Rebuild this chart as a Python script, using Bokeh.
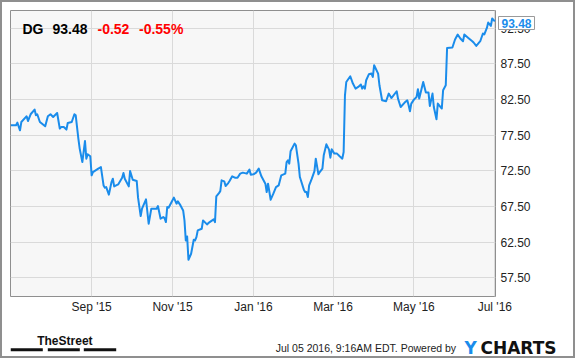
import pandas as pd
from bokeh.plotting import figure
from bokeh.layouts import column
from bokeh.models import (Label, FixedTicker, DatetimeTickFormatter,
                          Range1d, NumeralTickFormatter, ColumnDataSource)
from bokeh.core.properties import value
from bokeh.embed import file_html
from bokeh.resources import INLINE

# ---------------- data ----------------
ticker_symbol = "DG"
last_price = "93.48"
change_abs = "-0.52"
change_pct = "-0.55%"
footer_stamp = "Jul 05 2016, 9:16AM EDT.  Powered by"

dates = [
    "2015-07-02", "2015-07-06", "2015-07-07", "2015-07-09", "2015-07-10", "2015-07-13", "2015-07-14", "2015-07-15", "2015-07-17", "2015-07-20",
    "2015-07-21", "2015-07-22", "2015-07-24", "2015-07-28", "2015-07-30", "2015-08-01", "2015-08-03", "2015-08-06", "2015-08-08", "2015-08-09",
    "2015-08-11", "2015-08-13", "2015-08-14", "2015-08-17", "2015-08-19", "2015-08-20", "2015-08-22", "2015-08-23", "2015-08-25", "2015-08-27",
    "2015-08-28", "2015-08-29", "2015-08-31", "2015-09-01", "2015-09-02", "2015-09-06", "2015-09-08", "2015-09-10", "2015-09-11", "2015-09-12",
    "2015-09-14", "2015-09-16", "2015-09-17", "2015-09-18", "2015-09-21", "2015-09-24", "2015-09-25", "2015-09-26", "2015-09-29", "2015-09-30",
    "2015-10-02", "2015-10-05", "2015-10-06", "2015-10-08", "2015-10-09", "2015-10-12", "2015-10-14", "2015-10-16", "2015-10-20", "2015-10-21",
    "2015-10-23", "2015-10-25", "2015-10-26", "2015-10-27", "2015-10-28", "2015-10-29", "2015-10-31", "2015-11-02", "2015-11-04", "2015-11-05",
    "2015-11-07", "2015-11-09", "2015-11-10", "2015-11-11", "2015-11-12", "2015-11-13", "2015-11-15", "2015-11-17", "2015-11-18", "2015-11-19",
    "2015-11-20", "2015-11-23", "2015-11-24", "2015-11-27", "2015-11-29", "2015-12-02", "2015-12-03", "2015-12-04", "2015-12-06", "2015-12-07",
    "2015-12-08", "2015-12-10", "2015-12-11", "2015-12-13", "2015-12-14", "2015-12-16", "2015-12-18", "2015-12-20", "2015-12-22", "2015-12-24",
    "2015-12-27", "2015-12-29", "2015-12-30", "2016-01-01", "2016-01-03", "2016-01-05", "2016-01-07", "2016-01-10", "2016-01-11", "2016-01-12",
    "2016-01-14", "2016-01-16", "2016-01-18", "2016-01-20", "2016-01-22", "2016-01-25", "2016-01-26", "2016-01-27", "2016-01-28", "2016-01-29",
    "2016-02-01", "2016-02-02", "2016-02-04", "2016-02-05", "2016-02-08", "2016-02-09", "2016-02-10", "2016-02-11", "2016-02-12", "2016-02-14",
    "2016-02-16", "2016-02-17", "2016-02-19", "2016-02-20", "2016-02-22", "2016-02-23", "2016-02-25", "2016-02-27", "2016-02-28", "2016-02-29",
    "2016-03-02", "2016-03-04", "2016-03-06", "2016-03-08", "2016-03-09", "2016-03-10", "2016-03-11", "2016-03-14", "2016-03-16", "2016-03-18",
    "2016-03-20", "2016-03-22", "2016-03-23", "2016-03-24", "2016-03-25", "2016-03-26", "2016-03-28", "2016-03-30", "2016-03-31", "2016-04-01",
    "2016-04-04", "2016-04-05", "2016-04-07", "2016-04-10", "2016-04-12", "2016-04-14", "2016-04-18", "2016-04-19", "2016-04-21", "2016-04-24",
    "2016-04-26", "2016-04-27", "2016-04-28", "2016-04-29", "2016-05-01", "2016-05-03", "2016-05-04", "2016-05-05", "2016-05-08", "2016-05-10",
    "2016-05-12", "2016-05-13", "2016-05-15", "2016-05-16", "2016-05-18", "2016-05-19", "2016-05-22", "2016-05-23", "2016-05-25", "2016-05-26",
    "2016-05-30", "2016-05-31", "2016-06-01", "2016-06-03", "2016-06-05", "2016-06-07", "2016-06-08", "2016-06-11", "2016-06-14", "2016-06-15",
    "2016-06-17", "2016-06-20", "2016-06-22", "2016-06-23", "2016-06-25", "2016-06-26", "2016-06-28", "2016-06-29", "2016-07-01",
]

prices = [
    78.89, 78.89, 79.27, 78.19, 79.35, 79.97, 80.15, 79.49, 80.44, 81.10,
    80.29, 80.44, 79.35, 78.75, 80.15, 80.44, 80.06, 80.62, 78.43, 78.65,
    78.65, 78.29, 79.21, 79.35, 80.44, 80.29, 77.02, 75.62, 73.74, 76.69,
    74.21, 74.82, 74.54, 71.87, 72.33, 72.81, 73.03, 70.46, 70.14, 70.22,
    69.16, 70.93, 71.40, 70.32, 70.60, 71.54, 72.19, 71.40, 70.32, 72.47,
    71.26, 71.07, 68.74, 66.15, 67.19, 68.50, 65.08, 67.19, 67.19, 67.56,
    65.79, 66.01, 65.87, 65.31, 67.42, 67.33, 68.03, 68.74, 67.89, 68.22,
    67.65, 66.95, 65.55, 62.74, 63.30, 60.03, 60.87, 62.84, 62.74, 63.20,
    64.14, 64.38, 65.55, 64.99, 65.31, 65.69, 65.31, 68.92, 69.38, 69.66,
    71.17, 71.03, 70.37, 70.79, 71.07, 71.73, 71.54, 71.54, 72.11, 72.25,
    72.11, 72.67, 71.97, 72.01, 72.25, 72.81, 71.73, 70.70, 69.52, 70.70,
    68.45, 69.30, 70.22, 70.46, 71.87, 72.11, 73.74, 73.97, 73.51, 75.24,
    76.32, 76.08, 73.51, 71.63, 69.86, 69.52, 69.52, 68.82, 70.46, 71.40,
    72.47, 74.21, 72.01, 72.33, 72.81, 74.68, 76.22, 75.48, 74.35, 75.52,
    74.92, 74.92, 74.54, 74.21, 75.14, 83.10, 84.97, 85.77, 84.75, 84.04,
    84.27, 84.61, 84.04, 84.37, 84.04, 85.21, 86.05, 86.15, 85.67, 87.32,
    86.15, 84.51, 82.40, 82.26, 83.34, 82.72, 83.67, 82.64, 81.46, 82.08,
    82.40, 81.70, 80.86, 81.94, 82.50, 82.87, 83.95, 82.64, 84.97, 83.48,
    83.48, 81.60, 83.34, 81.46, 79.73, 81.94, 81.24, 83.81, 84.51, 89.75,
    89.80, 90.37, 90.93, 91.63, 91.07, 90.69, 91.63, 91.15, 90.69, 90.51,
    90.03, 90.69, 91.77, 91.63, 92.56, 93.31, 92.84, 93.88, 93.48,
]

x_tick_dates = ["2015-09-01", "2015-11-01", "2016-01-01", "2016-03-01", "2016-05-01", "2016-07-01"]
y_ticks = [57.5, 62.5, 67.5, 72.5, 77.5, 82.5, 87.5, 92.5]

# ---------------- styles ----------------
LINE_BLUE = "#1a8ceb"
BORDER = "#8f8f8f"
FONT = "Liberation Sans"

source = ColumnDataSource(dict(date=pd.to_datetime(dates), price=prices))

MAIN_H = 322
FRAME_L, FRAME_R, FRAME_T, FRAME_B = 10, 495, 10, 296
p = figure(
    width=575, height=MAIN_H,
    x_axis_type="datetime", y_axis_location="right",
    x_range=Range1d(pd.Timestamp("2015-07-01 20:00"), pd.Timestamp("2016-07-01 12:00")),
    y_range=Range1d(54.87, 95.0),
    output_backend="svg", toolbar_location=None, title=None,
    min_border_left=FRAME_L, min_border_right=575 - FRAME_R, min_border_top=FRAME_T,
    min_border_bottom=MAIN_H - FRAME_B,
)
p.background_fill_color = "#f7f7f7"
p.border_fill_color = "white"
p.outline_line_color = BORDER
p.outline_line_width = 1

p.line("date", "price", source=source, line_color=LINE_BLUE, line_width=2, line_join="round")

tick_ms = [pd.Timestamp(d).value / 1e6 for d in x_tick_dates]
p.xaxis.ticker = FixedTicker(ticks=tick_ms)
fmt = "%b '%y"
p.xaxis.formatter = DatetimeTickFormatter(years=fmt, months=fmt, days=fmt, hours=fmt)
p.yaxis.ticker = FixedTicker(ticks=y_ticks)
p.yaxis.formatter = NumeralTickFormatter(format="0.00")

for ax in (p.xaxis, p.yaxis):
    ax.axis_line_color = None
    ax.major_tick_line_color = None
    ax.minor_tick_line_color = None
    ax.major_tick_in = 0
    ax.major_tick_out = 0
    ax.major_label_text_font = FONT
    ax.major_label_text_font_size = "12px"
    ax.major_label_text_color = "#222222"
p.xaxis.major_label_standoff = 3
p.yaxis.major_label_standoff = 5

p.xgrid.grid_line_color = "#dadada"
p.ygrid.grid_line_color = "#dadada"

# header (inside the frame; screen units are relative to the frame)
for txt, cx, col in [(ticker_symbol, 22, "#000000"), (last_price, 52, "#000000"),
                     (change_abs, 97, "#ff0000"), (change_pct, 138.5, "#ff0000")]:
    p.add_layout(Label(x=cx - FRAME_L, y=FRAME_B - 28.3, x_units="screen", y_units="screen", text=txt,
                       text_font=FONT, text_font_size="14px", text_font_style="bold",
                       text_color=col, text_baseline="alphabetic", text_align="left"))

# price tag: a label in the right side panel (not clipped to the frame)
AXIS_W = 42
tag_panel_left = FRAME_R + AXIS_W
p.add_layout(Label(x=502 - tag_panel_left, y=FRAME_B - 22.5, x_units="screen", y_units="screen",
                   text=last_price, text_font=FONT, text_font_size="12px", text_font_style="bold",
                   text_color=LINE_BLUE, text_baseline="middle", text_align="left",
                   background_fill_color="white", border_line_color="#9a9a9a",
                   padding=(3, 3, 2, 2)), "right")

# ---------------- footer ----------------
FOOT_H = 358 - MAIN_H
f = figure(width=575, height=FOOT_H,
           x_range=Range1d(FRAME_L, FRAME_R), y_range=Range1d(358, MAIN_H),
           output_backend="svg", toolbar_location=None, title=None,
           x_axis_location=None, y_axis_location=None,
           min_border_left=FRAME_L, min_border_right=575 - FRAME_R, min_border_top=0, min_border_bottom=0)
f.grid.visible = False
f.outline_line_color = None
f.background_fill_color = "white"
f.border_fill_color = "white"

f.text(x=[36.7], y=[340.8], text=["TheStreet"], text_font=value(FONT),
       text_font_size="12px", text_font_style="bold", text_color="#111111", text_baseline="alphabetic")
f.quad(left=[10, 47.3, 83.3], right=[42.3, 79.3, 115.7], top=[347.8] * 3, bottom=[350.8] * 3,
       fill_color="#111111", line_color=None)
f.text(x=[458.5], y=[347.3], text=[footer_stamp], text_font=value(FONT),
       text_font_size="10.5px", text_color="#222222", text_align="right", text_baseline="alphabetic")
f.text(x=[464], y=[347], text=["Y"], text_font=value("DejaVu Sans"), text_font_size="17px",
       text_font_style="bold", text_color=LINE_BLUE, text_baseline="alphabetic")
# the rest of the logo lies past the frame: a label in the footer's right side panel
f.add_layout(Label(x=480 - FRAME_R, y=358 - 347, x_units="screen", y_units="screen", text="CHARTS",
                   text_font="DejaVu Sans", text_font_size="17px", text_font_style="bold",
                   text_color="#111111", text_baseline="alphabetic", text_align="left"), "right")

layout = column(p, f, spacing=0)

# thin grey frame round the whole picture (page decoration)
page_template = """
{% block preamble %}
<style>
  #chart-frame { position: fixed; left: 0; top: 0; width: 575px; height: 358px;
                 box-sizing: border-box; border: 2px solid #8f8f8f;
                 pointer-events: none; z-index: 1000; }
</style>
{% endblock %}
{% block contents %}
{{ super() }}
<div id="chart-frame"></div>
{% endblock %}
"""
open("out.html", "w").write(file_html(layout, INLINE, template=page_template))
